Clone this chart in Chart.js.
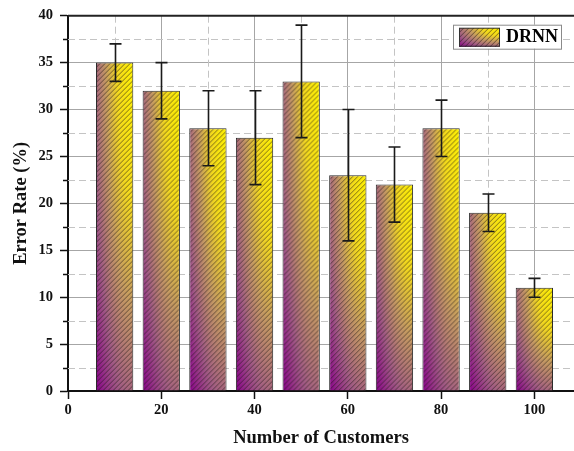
<!DOCTYPE html>
<html>
<head>
<meta charset="utf-8">
<script src="https://cdn.jsdelivr.net/npm/chart.js@4"></script>
<style>
html,body{margin:0;padding:0;background:#fff}
</style>
</head>
<body>
<canvas id="chart" width="574" height="451"></canvas>
<script>
let customers=[10,20,30,40,50,60,70,80,90,100]
let errorRate=[35,32,28,27,33,23,22,28,19,11]
let errLow=[33,29,24,22,27,16,18,25,17,10]
let errHigh=[37,35,32,32,39,30,26,31,21,12]
let seriesName="DRNN"

let serif='"Liberation Serif","Times New Roman",serif'

// yellow at the top-right corner fading to purple, stretched to the box, with "/" hatching on top
function hatchedBox(w,h){
let off=document.createElement("canvas")
off.width=Math.ceil(w)
off.height=Math.ceil(h)
let g=off.getContext("2d")
g.save()
g.scale(w,h)
let grad=g.createRadialGradient(1,0,0,1,0,Math.SQRT2)
grad.addColorStop(0,"#fff200")
grad.addColorStop(0.3,"#f2d81e")
grad.addColorStop(0.52,"#c49a62")
grad.addColorStop(0.75,"#a05a84")
grad.addColorStop(1,"#88008a")
g.fillStyle=grad
g.fillRect(0,0,1,1)
g.restore()
g.strokeStyle="rgba(30,20,20,0.72)"
g.lineWidth=0.8
g.beginPath()
for(let k=-h;k<w+h;k+=5){
g.moveTo(k,h)
g.lineTo(k+h,0)
}
g.stroke()
return off
}

function barFill(c){
if(c.type!=="data")return "#88008a"
let ch=c.chart,xs=ch.scales.x,ys=ch.scales.y
if(!xs||!ys)return "#88008a"
let i=c.dataIndex
let w=(xs.getPixelForValue(customers[1])-xs.getPixelForValue(customers[0]))*0.8
let left=xs.getPixelForValue(customers[i])-w/2
let top=ys.getPixelForValue(errorRate[i])
let h=ys.getPixelForValue(0)-top
if(!isFinite(w)||!isFinite(h)||!isFinite(left)||w<1||h<1)return "#88008a"
let p=ch.ctx.createPattern(hatchedBox(w,h),"no-repeat")
p.setTransform(new DOMMatrix().translate(left,top))
return p
}

// dashed minor grid, minor tick marks and the top frame line
let frame={
id:"frame",
beforeDatasetsDraw(chart){
let {ctx,chartArea:ca,scales:{x,y}}=chart
ctx.save()
ctx.strokeStyle="#c4c4c4"
ctx.lineWidth=1
ctx.setLineDash([7,4])
ctx.beginPath()
for(let v=10;v<x.max;v+=20){
let px=Math.round(x.getPixelForValue(v))+0.5
ctx.moveTo(px,ca.top)
ctx.lineTo(px,ca.bottom)
}
for(let v=2.5;v<y.max;v+=5){
let py=Math.round(y.getPixelForValue(v))+0.5
ctx.moveTo(ca.left,py)
ctx.lineTo(ca.right,py)
}
ctx.stroke()
ctx.setLineDash([])
ctx.strokeStyle="#111"
ctx.lineWidth=1.5
ctx.beginPath()
for(let v=2.5;v<y.max;v+=5){
let py=Math.round(y.getPixelForValue(v))+0.5
ctx.moveTo(ca.left-5,py)
ctx.lineTo(ca.left,py)
}
for(let v=10;v<x.max;v+=20){
let px=Math.round(x.getPixelForValue(v))+0.5
ctx.moveTo(px,ca.bottom)
ctx.lineTo(px,ca.bottom-5)
}
ctx.stroke()
ctx.strokeStyle="#222"
ctx.lineWidth=2
ctx.beginPath()
ctx.moveTo(ca.left,ca.top)
ctx.lineTo(ca.right,ca.top)
ctx.stroke()
ctx.restore()
}
}

let errorBars={
id:"errorBars",
afterDatasetsDraw(chart){
let {ctx,scales:{y}}=chart
let meta=chart.getDatasetMeta(0)
ctx.save()
ctx.strokeStyle="#1a1a1a"
ctx.lineWidth=1.6
meta.data.forEach((bar,i)=>{
let x=Math.round(bar.x)+0.5
let hi=y.getPixelForValue(errHigh[i])
let lo=y.getPixelForValue(errLow[i])
ctx.beginPath()
ctx.moveTo(x,hi)
ctx.lineTo(x,lo)
ctx.moveTo(x-6,hi)
ctx.lineTo(x+6,hi)
ctx.moveTo(x-6,lo)
ctx.lineTo(x+6,lo)
ctx.stroke()
})
ctx.restore()
}
}

let legendBox={
id:"legendBox",
afterDraw(chart){
let {ctx,chartArea:ca}=chart
let label=chart.data.datasets[0].label
ctx.save()
ctx.font="bold 18px "+serif
let tw=ctx.measureText(label).width
let bw=6+41+6+tw+3,bh=24
let bx=ca.right-13-bw,by=ca.top+9
ctx.fillStyle="#fff"
ctx.fillRect(bx,by,bw,bh)
ctx.strokeStyle="#8a8a8a"
ctx.lineWidth=1
ctx.strokeRect(bx+0.5,by+0.5,bw,bh)
ctx.drawImage(hatchedBox(41,19),bx+6,by+3)
ctx.strokeStyle="#333"
ctx.strokeRect(bx+6.5,by+3.5,40,18)
ctx.fillStyle="#000"
ctx.textBaseline="middle"
ctx.fillText(label,bx+53,by+bh/2+1)
ctx.restore()
}
}

let ctx=document.getElementById("chart").getContext("2d")

let chart=new Chart(ctx,{
type:"bar",
data:{
datasets:[{
label:seriesName,
data:customers.map((x,i)=>({x:x,y:errorRate[i]})),
backgroundColor:barFill,
borderColor:"#2a2a2a",
borderWidth:1,
categoryPercentage:0.8,
barPercentage:1
}]
},
options:{
responsive:false,
animation:false,
layout:{padding:{top:15,right:0,bottom:0,left:0}},
plugins:{legend:{display:false},tooltip:{enabled:false}},
scales:{
x:{
type:"linear",
offset:false,
min:0,
max:108.5,
ticks:{
stepSize:10,
includeBounds:false,
autoSkip:false,
maxRotation:0,
padding:3,
color:"#111",
font:{family:serif,size:14.5,weight:"bold"},
callback:v=>v%20===0?v:null
},
grid:{
offset:false,
color:c=>c.tick&&c.tick.value%20===0&&c.tick.value>0?"#a6a6a6":"rgba(0,0,0,0)",
lineWidth:1,
tickLength:8,
tickWidth:1.5,
tickColor:c=>c.tick&&c.tick.value%20===0?"#111":"rgba(0,0,0,0)"
},
border:{color:"#111",width:2},
title:{
display:true,
text:"Number of Customers",
color:"#111",
font:{family:serif,size:18.5,weight:"bold"},
padding:{top:0,bottom:2}
},
afterFit:s=>{s.height=60}
},
y:{
min:0,
max:40,
ticks:{
stepSize:5,
padding:7,
color:"#111",
font:{family:serif,size:14.5,weight:"bold"}
},
grid:{
color:c=>c.tick&&c.tick.value>0&&c.tick.value<40?"#a6a6a6":"rgba(0,0,0,0)",
lineWidth:1,
tickLength:8,
tickWidth:1.5,
tickColor:"#111"
},
border:{color:"#111",width:2},
title:{
display:true,
text:"Error Rate (%)",
color:"#111",
font:{family:serif,size:18.5,weight:"bold"},
padding:{top:10,bottom:0}
},
afterFit:s=>{s.width=68}
}
}
},
plugins:[frame,errorBars,legendBox]
})
</script>
</body>
</html>
